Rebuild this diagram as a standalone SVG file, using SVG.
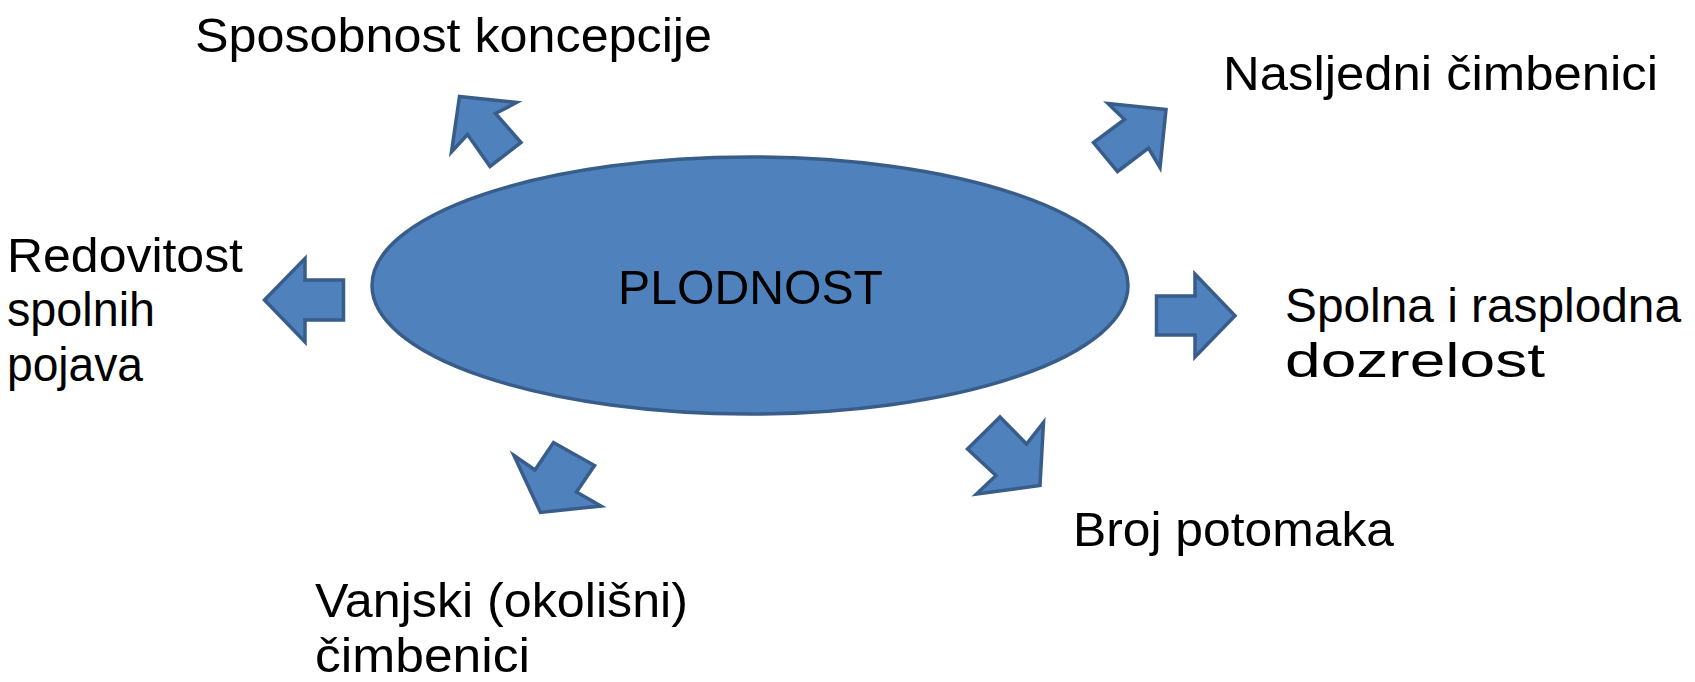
<svg xmlns="http://www.w3.org/2000/svg" width="1695" height="682" viewBox="0 0 1695 682">
  <style>
    .shape { fill: #4f81bd; stroke: #385d8a; stroke-width: 3.5; stroke-linejoin: miter; }
    .lbl { font-family: "Liberation Sans", "DejaVu Sans", sans-serif; font-size: 48px; fill: #000000; }
  </style>
  <rect x="0" y="0" width="1695" height="682" fill="#ffffff"/>

  <g id="node-plodnost">
    <ellipse class="shape" cx="750" cy="285.5" rx="378" ry="128.5"/>
    <text class="lbl" x="618" y="304" textLength="265" lengthAdjust="spacingAndGlyphs">PLODNOST</text>
  </g>

  <g id="connectors">
    <polygon class="shape" points="459.5,96.5 516.5,102.5 495.5,113.5 521,142.5 490,166.5 467.5,134.5 451.5,152"/>
    <polygon class="shape" points="1166,109.5 1108,103.5 1124.5,119.5 1093.5,142.5 1117.5,171.5 1148.5,148 1160,167.5"/>
    <polygon class="shape" points="264.5,300 305,258.5 305,280 343.5,280 343.5,320 305,320 305,342"/>
    <polygon class="shape" points="1156.5,296 1195,296 1195,274 1235,315.7 1195,357 1195,335 1156.5,335"/>
    <polygon class="shape" points="514,455.5 535,470 553.5,442.5 594.5,465.5 576.5,492 601,506 540.5,512.5"/>
    <polygon class="shape" points="967.5,449 1000,417 1026.5,444 1043.5,422.5 1040,485.5 976.5,494 996,475.5"/>
  </g>

  <g id="node-sposobnost">
    <text class="lbl" x="195" y="52" textLength="517" lengthAdjust="spacingAndGlyphs">Sposobnost koncepcije</text>
  </g>
  <g id="node-nasljedni">
    <text class="lbl" x="1223" y="90" textLength="435" lengthAdjust="spacingAndGlyphs">Nasljedni čimbenici</text>
  </g>
  <g id="node-redovitost">
    <text class="lbl" x="7" y="272" textLength="236" lengthAdjust="spacingAndGlyphs">Redovitost</text>
    <text class="lbl" x="7" y="326" textLength="148" lengthAdjust="spacingAndGlyphs">spolnih</text>
    <text class="lbl" x="7" y="381" textLength="136" lengthAdjust="spacingAndGlyphs">pojava</text>
  </g>
  <g id="node-spolna">
    <text class="lbl" x="1285" y="322" textLength="396" lengthAdjust="spacingAndGlyphs">Spolna i rasplodna</text>
    <text class="lbl" x="1285" y="377" textLength="260" lengthAdjust="spacingAndGlyphs">dozrelost</text>
  </g>
  <g id="node-broj">
    <text class="lbl" x="1073" y="546" textLength="321" lengthAdjust="spacingAndGlyphs">Broj potomaka</text>
  </g>
  <g id="node-vanjski">
    <text class="lbl" x="315" y="617" textLength="373" lengthAdjust="spacingAndGlyphs">Vanjski (okolišni)</text>
    <text class="lbl" x="315" y="672" textLength="215" lengthAdjust="spacingAndGlyphs">čimbenici</text>
  </g>
</svg>
